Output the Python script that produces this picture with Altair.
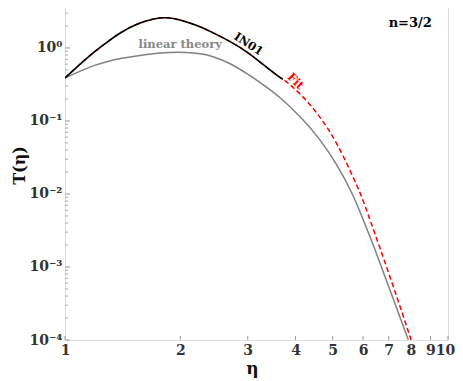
import altair as alt
import pandas as pd

# ---- data ----
eta_lin = [1.0, 1.094, 1.184, 1.287, 1.392, 1.618, 1.881, 2.084, 2.253, 2.436, 2.698, 2.990, 3.292,
           3.646, 4.111, 4.638, 5.137, 5.623, 6.007, 6.457, 6.94, 7.877]
T_lin = [0.388, 0.481, 0.572, 0.653, 0.718, 0.815, 0.876, 0.873, 0.835, 0.772, 0.619, 0.445, 0.314,
         0.212, 0.1164, 0.0563, 0.0252, 0.01042, 0.00445, 0.001726, 0.00061, 0.000101]

eta_in01 = [1.0, 1.094, 1.184, 1.287, 1.392, 1.542, 1.698, 1.848, 1.998, 2.213, 2.436, 2.698, 2.990,
            3.292, 3.646, 3.706]
T_in01 = [0.388, 0.600, 0.862, 1.197, 1.621, 2.152, 2.52, 2.642, 2.442, 2.040, 1.621, 1.231, 0.890,
          0.591, 0.388, 0.374]

eta_fit = [1.0, 1.094, 1.184, 1.287, 1.392, 1.542, 1.698, 1.848, 1.998, 2.213, 2.436, 2.698, 2.990,
           3.292, 3.646, 3.706, 4.155, 4.638, 5.137, 5.725, 5.971, 6.391, 7.208, 8.006]
T_fit = [0.388, 0.600, 0.862, 1.197, 1.621, 2.152, 2.52, 2.642, 2.442, 2.040, 1.621, 1.231, 0.890,
         0.591, 0.388, 0.380, 0.229, 0.1145, 0.0504, 0.01474, 0.0089, 0.00324, 0.000537, 0.000101]

x_ticks = [1, 2, 3, 4, 5, 6, 7, 8, 9, 10]
y_ticks = [1e-4, 1e-3, 1e-2, 1e-1, 1]
y_tick_labels = ["10⁻⁴", "10⁻³", "10⁻²", "10⁻¹", "10⁰"]
y_minor = [k * 10.0 ** d for d in range(-4, 1) for k in range(2, 10) if k * 10.0 ** d <= 4]

ann_text = ["linear theory", "IN01", "Fit", "n=3/2"]
ann_eta = [2.0, 3.01, 3.99, 7.97]
ann_T = [1.11, 1.11, 0.346, 2.22]
ann_angle = [0, 33, 45, 0]
ann_color = ["#888888", "#000000", "#ff0000", "#000000"]

FONT = "DejaVu Serif"
W, H = 383, 336

xs = alt.Scale(type="log", domain=[1, 10])
ys = alt.Scale(type="log", domain=[1e-4, 4])

label_expr = " : ".join(
    f"datum.value < {v * 1.01} && datum.value > {v * 0.99} ? '{l}'" for v, l in zip(y_ticks, y_tick_labels)
) + " : ''"

x_axis = alt.Axis(values=x_ticks, format="d", ticks=False, grid=False, domain=False,
                  labelFont=FONT, labelFontWeight="bold", labelFontSize=14, labelColor="#333333",
                  labelPadding=3, title="η", titleFont=FONT, titleFontWeight="bold",
                  titleFontSize=17, titleColor="#111111", titleX=187, titleY=33,
                  titleBaseline="alphabetic", titleAlign="center", labelFlush=False,
                  labelOverlap=False, labelBound=False,
                  labelOffset={"condition": {"test": "datum.value == 10", "value": -3}, "value": 0})
y_axis = alt.Axis(values=y_ticks, labelExpr=label_expr, ticks=False, grid=False, domain=False,
                  labelFont=FONT, labelFontWeight="bold", labelFontSize=14, labelColor="#333333",
                  labelPadding=3, title="T(η)", titleFont=FONT, titleFontWeight="bold",
                  titleFontSize=16, titleColor="#111111", titleX=-46, titleY=161,
                  titleAngle=-90, titleAlign="center", titleBaseline="middle")

df_lin = pd.DataFrame({"eta": eta_lin, "T": T_lin})
df_in = pd.DataFrame({"eta": eta_in01, "T": T_in01})
df_fit = pd.DataFrame({"eta": eta_fit, "T": T_fit})

INTERP = "basis"
lin = alt.Chart(df_lin).mark_line(color="#808080", strokeWidth=1.5, interpolate=INTERP, clip=True).encode(
    x=alt.X("eta:Q", scale=xs, axis=x_axis), y=alt.Y("T:Q", scale=ys, axis=y_axis))
fit = alt.Chart(df_fit).mark_line(color="#ff0000", strokeWidth=1.5, strokeDash=[5, 3],
                                  interpolate=INTERP, clip=True).encode(
    x=alt.X("eta:Q", scale=xs), y=alt.Y("T:Q", scale=ys))
in01 = alt.Chart(df_in).mark_line(color="#000000", strokeWidth=1.6, interpolate=INTERP, clip=True).encode(
    x=alt.X("eta:Q", scale=xs), y=alt.Y("T:Q", scale=ys))

df_ann = pd.DataFrame({"text": ann_text, "eta": ann_eta, "T": ann_T, "angle": ann_angle, "color": ann_color})
ann_layers = []
for i, row in df_ann.iterrows():
    size = 13 if row["text"] == "n=3/2" else 11.5
    ann_layers.append(
        alt.Chart(df_ann.iloc[[i]]).mark_text(font=FONT, fontWeight="bold", fontSize=size,
                                              color=row["color"], angle=int(row["angle"]),
                                              align="center", baseline="middle").encode(
            x=alt.X("eta:Q", scale=xs), y=alt.Y("T:Q", scale=ys), text="text:N"))

df_xt = pd.DataFrame({"eta": x_ticks})
xt = alt.Chart(df_xt).mark_rule(color="#999999", strokeWidth=1).encode(
    x=alt.X("eta:Q", scale=xs), y=alt.value(H), y2=alt.value(H - 4))
df_yt = pd.DataFrame({"T": y_ticks})
yt = alt.Chart(df_yt).mark_rule(color="#999999", strokeWidth=1).encode(
    y=alt.Y("T:Q", scale=ys), x=alt.value(0), x2=alt.value(5))
df_ym = pd.DataFrame({"T": y_minor})
ym = alt.Chart(df_ym).mark_rule(color="#aaaaaa", strokeWidth=1).encode(
    y=alt.Y("T:Q", scale=ys), x=alt.value(0), x2=alt.value(3))

chart = alt.layer(xt, yt, ym, lin, fit, in01, *ann_layers).properties(
    width=W, height=H,
    autosize=alt.AutoSizeParams(type="none"),
    padding={"left": 57, "top": -4, "right": 7, "bottom": 40},
).configure_view(stroke="#999999", strokeWidth=1.2).configure(background="white")

chart.save("out.html", embed_options={"renderer": "svg", "actions": False})
